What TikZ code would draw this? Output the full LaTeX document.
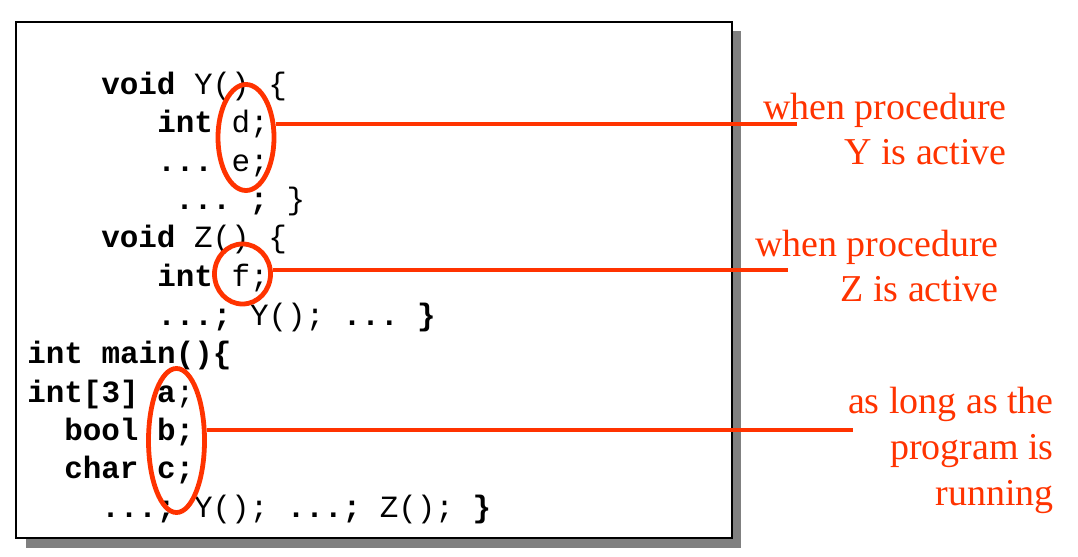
\documentclass[tikz,border=0pt]{standalone}
\usepackage{fontspec}
\setmainfont{Liberation Serif}
\setmonofont{Liberation Mono}
\usetikzlibrary{shapes.geometric}
\definecolor{hot}{HTML}{FF3300}
\tikzset{%
  code/.style={anchor=base west, inner sep=0pt, font=\ttfamily\fontsize{22}{26}\selectfont},
  ring/.style={draw=hot, line width=3.4pt, ellipse, inner sep=0pt, minimum width=1.4cm},
  link/.style={draw=hot, line width=2.4pt},
  note/.style={anchor=base east, align=right, inner sep=0pt, text=hot, font=\fontsize{27}{32.4}\selectfont}
}

\begin{document}
\begin{tikzpicture}[x=0.025cm, y=-0.025cm]
  \useasboundingbox (0,0) rectangle (1078,557);
  % the sheet and its shadow
  \fill[gray] (26,31) rectangle (741,548);
  \draw[fill=white, line width=1.4pt] (16,22) rectangle (732,538);

  % the program
  \node[code] (l1) at (101,95) {\textbf{void} Y() \{};
  \node[code] (l2) at (157,133) {\textbf{int} d;};
  \node[code] (l3) at (157,172) {\textbf{...} e;};
  \node[code] (l4) at (175,210) {\textbf{... ;} \}};
  \node[code] (l5) at (101,248) {\textbf{void} Z() \{};
  \node[code] (l6) at (157,287) {\textbf{int} f;};
  \node[code] (l7) at (157,326) {\textbf{...;} Y(); \textbf{... \}}};
  \node[code] (l8) at (27,363) {\textbf{int main()\{}};
  \node[code] (l9) at (27,402) {\textbf{int[3] a};};
  \node[code] (l10) at (64,440) {\textbf{bool b;}};
  \node[code] (l11) at (64,478) {\textbf{char c;}};
  \node[code] (l12) at (101,517) {\textbf{...;} Y(); \textbf{...;} Z(); \textbf{\}}};

  % lifetimes
  \node[ring, minimum height=2.65cm] (de) at (246,137.5) {};
  \node[ring, minimum height=1.5cm] (f) at (242.5,274) {};
  \node[ring, minimum height=3.6cm] (abc) at (176.5,440.5) {};

  \coordinate (yend) at (797,124);
  \coordinate (zend) at (788,270);
  \coordinate (mend) at (853,430);
  \draw[link] (de.east |- yend) -- (yend);
  \draw[link] (f.east |- zend) -- (zend);
  \draw[link] (abc.east |- mend) -- (mend);

  \node[note] (ny) at (1007,165) {when procedure\\Y is active};
  \node[note] (nz) at (999,302) {when procedure\\Z is active};
  \node[note] (nm) at (1054,505) {as long as the\\program is\\running};
\end{tikzpicture}
\end{document}
